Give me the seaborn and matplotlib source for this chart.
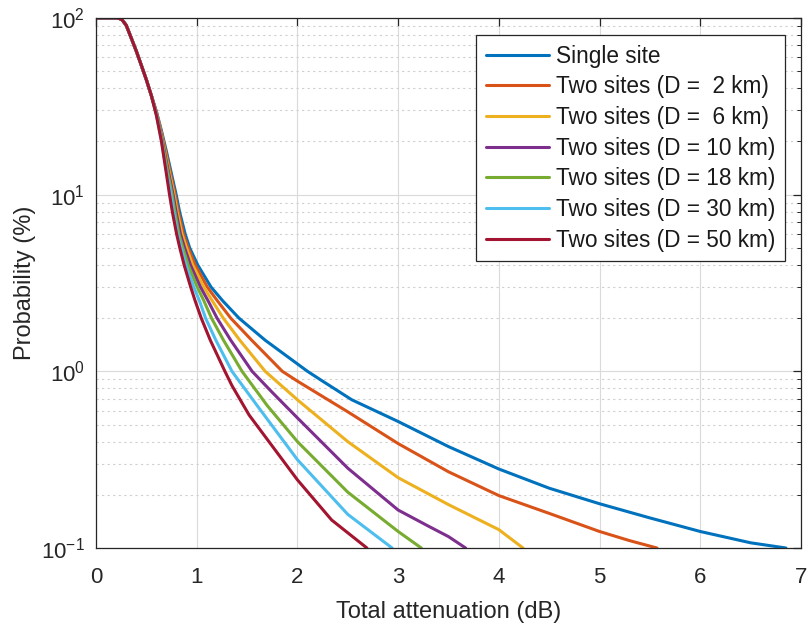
import numpy as np
import pandas as pd
import matplotlib
matplotlib.use("Agg")
import matplotlib.pyplot as plt
import seaborn as sns
from matplotlib.ticker import LogLocator, NullFormatter, FixedLocator

# Shared head of every curve (all sites identical at low attenuation)
head_x = [0.0, 0.1, 0.2, 0.23, 0.26, 0.3, 0.35, 0.4, 0.45, 0.5, 0.55]
head_y = [100, 100, 100, 99.5, 97.5, 91, 77, 65, 54, 44.7, 36.3]

labels = [
    "Single site",
    "Two sites (D =  2 km)",
    "Two sites (D =  6 km)",
    "Two sites (D = 10 km)",
    "Two sites (D = 18 km)",
    "Two sites (D = 30 km)",
    "Two sites (D = 50 km)",
]

single_x = [0.6, 0.65, 0.7, 0.796, 0.83, 0.885, 0.93, 1.01, 1.142, 1.26, 1.42, 1.68,
            2.1, 2.25, 2.54, 3.0, 3.5, 4.0, 4.5, 5.0, 5.5, 6.0, 6.5, 6.85]
single_y = [29.5, 23, 17.5, 10, 8, 6, 5, 4, 3, 2.5, 2, 1.5,
            1.0, 0.88, 0.69, 0.52, 0.375, 0.28, 0.218, 0.178, 0.148, 0.124, 0.107, 0.1]

d2_x = [0.6, 0.65, 0.7, 0.785, 0.818, 0.868, 0.915, 0.985, 1.105, 1.207, 1.338, 1.546,
        1.85, 2.0, 2.5, 3.0, 3.5, 4.0, 4.5, 5.0, 5.3, 5.57]
d2_y = [29.3, 22.5, 16.8, 10, 8, 6, 5, 4, 3, 2.5, 2, 1.5,
        1.0, 0.88, 0.59, 0.39, 0.27, 0.198, 0.157, 0.124, 0.11, 0.1]

d6_x = [0.6, 0.65, 0.7, 0.775, 0.806, 0.853, 0.898, 0.96, 1.07, 1.156, 1.264, 1.428,
        1.68, 2.0, 2.5, 3.0, 3.5, 4.0, 4.24]
d6_y = [29.1, 22, 16.0, 10, 8, 6, 5, 4, 3, 2.5, 2, 1.5,
        1.0, 0.69, 0.40, 0.25, 0.176, 0.127, 0.1]

d10_x = [0.6, 0.65, 0.7, 0.765, 0.795, 0.838, 0.88, 0.938, 1.037, 1.114, 1.202, 1.338,
         1.55, 1.75, 2.0, 2.5, 3.0, 3.3, 3.5, 3.67]
d10_y = [28.9, 21.5, 15.3, 10, 8, 6, 5, 4, 3, 2.5, 2, 1.5,
         1.0, 0.76, 0.545, 0.283, 0.164, 0.133, 0.116, 0.1]

d18_x = [0.6, 0.65, 0.7, 0.755, 0.783, 0.823, 0.862, 0.915, 1.005, 1.072, 1.147, 1.266,
         1.45, 1.7, 2.0, 2.5, 3.0, 3.23]
d18_y = [28.6, 21, 14.6, 10, 8, 6, 5, 4, 3, 2.5, 2, 1.5,
         1.0, 0.64, 0.40, 0.207, 0.124, 0.1]

d30_x = [0.6, 0.65, 0.7, 0.745, 0.77, 0.81, 0.846, 0.893, 0.97, 1.028, 1.088, 1.19,
         1.35, 1.6, 2.0, 2.5, 2.94]
d30_y = [28.3, 20.3, 13.6, 10, 8, 6, 5, 4, 3, 2.5, 2, 1.5,
         1.0, 0.64, 0.316, 0.155, 0.1]

d50_x = [0.6, 0.65, 0.7, 0.73, 0.758, 0.80, 0.832, 0.875, 0.94, 0.985, 1.045, 1.135,
         1.28, 1.35, 1.52, 2.0, 2.34, 2.69]
d50_y = [28, 20, 13, 10, 8, 6, 5, 4, 3, 2.5, 2, 1.5,
         1.0, 0.83, 0.566, 0.243, 0.144, 0.1]

series_x = [single_x, d2_x, d6_x, d10_x, d18_x, d30_x, d50_x]
series_y = [single_y, d2_y, d6_y, d10_y, d18_y, d30_y, d50_y]

colors = ["#0072BD", "#D95319", "#EDB120", "#7E2F8E", "#77AC30", "#4DBEEE", "#A2142F"]

rows = []
for lab, xs, ys in zip(labels, series_x, series_y):
    for x, y in zip(head_x + xs, head_y + ys):
        rows.append({"att": x, "prob": y, "series": lab})
df = pd.DataFrame(rows)

sns.set_theme(style="white")
plt.rcParams["font.family"] = ["Liberation Sans", "DejaVu Sans"]
plt.rcParams["mathtext.fontset"] = "custom"
plt.rcParams["mathtext.rm"] = "Liberation Sans"
plt.rcParams["mathtext.it"] = "Liberation Sans:italic"

W, H = 808, 631
ax_left, ax_right, ax_top, ax_bottom = 96, 801, 18, 548
fig = plt.figure(figsize=(W / 100, H / 100), dpi=100)
ax = fig.add_axes([ax_left / W, 1 - ax_bottom / H,
                   (ax_right - ax_left) / W, (ax_bottom - ax_top) / H])

sns.lineplot(data=df, x="att", y="prob", hue="series", hue_order=labels,
             palette=colors, linewidth=2.2, sort=False, estimator=None, ax=ax)

ax.set_yscale("log")
ax.set_xlim(0, 7)
ax.set_ylim(0.1, 100)
ax.xaxis.set_major_locator(FixedLocator(range(8)))
ax.yaxis.set_major_locator(LogLocator(base=10, numticks=10))
ax.yaxis.set_minor_locator(LogLocator(base=10, subs=np.arange(2, 10), numticks=20))
ax.yaxis.set_minor_formatter(NullFormatter())

edge = "#262626"
for s in ax.spines.values():
    s.set_visible(True)
    s.set_color(edge)
    s.set_linewidth(0.9)

ax.tick_params(axis="both", which="both", direction="in", top=True, right=True,
               colors=edge, labelcolor="#262626", labelsize=16)
ax.tick_params(axis="both", which="major", length=6, width=0.9)
ax.tick_params(axis="y", which="minor", length=3, width=0.7)
ax.tick_params(axis="x", which="major", pad=14)
ax.tick_params(axis="y", which="major", pad=8)

ax.grid(True, which="major", color="#dadada", linewidth=0.8, linestyle="-")
ax.grid(True, which="minor", axis="y", color="#cfcfcf", linewidth=0.8,
        linestyle=(0, (2, 3)))
ax.set_axisbelow(True)

ax.set_xlabel("Total attenuation (dB)", fontsize=17, color="#262626", labelpad=9)
ax.set_ylabel("Probability (%)", fontsize=17, color="#262626", labelpad=4)

aw = ax_right - ax_left
ah = ax_bottom - ax_top
leg = ax.legend(loc="upper right", bbox_to_anchor=(1 - 16 / aw, 1 - 17 / ah),
                fontsize=16.3, frameon=True, fancybox=False, framealpha=1,
                edgecolor=edge, handlelength=2.8, handletextpad=0.3,
                labelspacing=0.34, borderpad=0.42, borderaxespad=0)
leg.get_frame().set_linewidth(0.9)
for line in leg.get_lines():
    line.set_linewidth(2.2)
for t in leg.get_texts():
    t.set_color("#1a1a1a")

fig.savefig("out.png", dpi=100)
